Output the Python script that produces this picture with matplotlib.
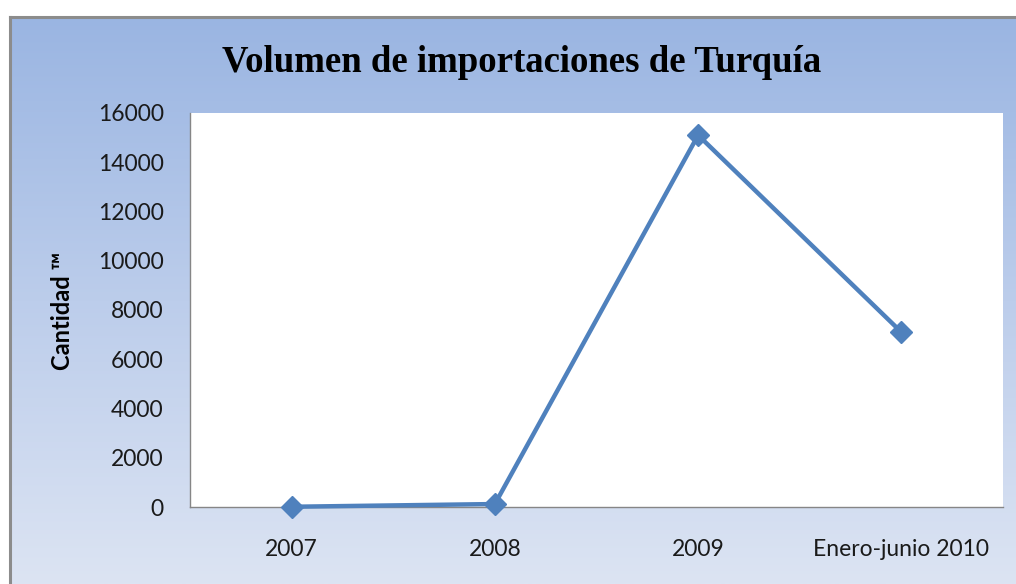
import numpy as np
import matplotlib
matplotlib.use("Agg")
import matplotlib.pyplot as plt
from matplotlib.colors import LinearSegmentedColormap

categories = ["2007", "2008", "2009", "Enero-junio 2010"]
values = [10, 120, 15100, 7100]
yticks = [0, 2000, 4000, 6000, 8000, 10000, 12000, 14000, 16000]
title = "Volumen de importaciones de Turquía"
ylabel = "Cantidad ™"

W, H = 1016, 584
fig = plt.figure(figsize=(W / 100, H / 100), dpi=100)
fig.patch.set_facecolor("white")

# gradient background box
bx0, by_top = 10, 17
bg = fig.add_axes([bx0 / W, 0, (W - bx0) / W, (H - by_top) / H])
cmap = LinearSegmentedColormap.from_list("g", ["#9AB5E2", "#BCCDEB", "#DCE4F3"])
grad = np.linspace(0, 1, 256).reshape(-1, 1)
bg.imshow(grad, aspect="auto", cmap=cmap, extent=[0, 1, 0, 1], origin="upper")
bg.set_xlim(0, 1)
bg.set_ylim(0, 1)
bg.set_xticks([])
bg.set_yticks([])
for s in ["right", "bottom"]:
    bg.spines[s].set_visible(False)
for s in ["left", "top"]:
    bg.spines[s].set_color("#8C8C8C")
    bg.spines[s].set_linewidth(2.2)

# plot area
px0, py0, px1, py1 = 190, 113, 1003, 507
ax = fig.add_axes([px0 / W, (H - py1) / H, (px1 - px0) / W, (py1 - py0) / H])
ax.set_facecolor("white")
x = np.arange(len(categories))
ax.plot(x, values, color="#4F81BD", lw=3.2, marker="D", markersize=11,
        markerfacecolor="#4F81BD", markeredgecolor="#4F81BD", clip_on=False, zorder=3)
ax.set_xlim(-0.5, len(categories) - 0.5)
ax.set_ylim(0, 16000)
ax.set_xticks(x)
ax.set_xticklabels(categories, fontfamily="Lato", fontsize=16.5, color="#1A1A1A")
ax.set_yticks(yticks)
ax.set_yticklabels([str(v) for v in yticks], fontfamily="Lato", fontsize=16.5, color="#1A1A1A")
ax.tick_params(axis="both", length=0)
ax.tick_params(axis="y", pad=19)
ax.tick_params(axis="x", pad=23)
for s in ["top", "right"]:
    ax.spines[s].set_visible(False)
for s in ["left", "bottom"]:
    ax.spines[s].set_color("#868686")
    ax.spines[s].set_linewidth(1.0)

fig.text(62 / W, 1 - 311 / H, ylabel, rotation=90, ha="center", va="center",
         fontfamily="Lato", fontweight="bold", fontsize=17, color="black")
fig.text(522 / W, 1 - 72 / H, title, ha="center", va="baseline",
         fontfamily="Liberation Serif", fontweight="bold", fontsize=26.5, color="black")

fig.savefig("out.png", dpi=100)
